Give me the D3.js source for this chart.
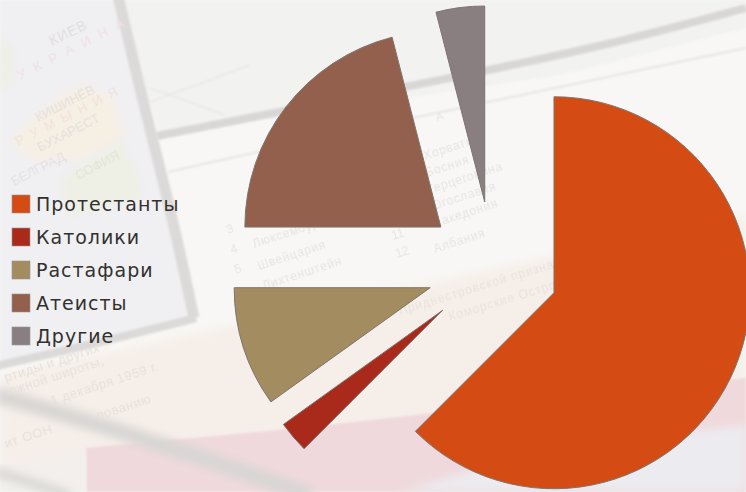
<!DOCTYPE html>
<html>
<head>
<meta charset="utf-8">
<script src="https://cdn.jsdelivr.net/npm/d3@7"></script>
<style>
html, body { margin: 0; padding: 0; background: #f7f6f4; }
svg { display: block; }
</style>
</head>
<body>
<svg id="chart" width="746" height="492"></svg>
<script>
var names = ['Протестанты', 'Католики', 'Растафари', 'Атеисты', 'Другие'];
var shares = [62.5, 2.6, 9.9, 21, 4];
var colors = ['#d54b14', '#a92a1a', '#a38d60', '#92604c', '#8a7f80'];

var width = 746, height = 492;
var pieCenter = [493, 267.5];
var radius = 196;
var explode = 66;

var svg = d3.select('#chart');
var defs = svg.append('defs');
function addBlur(id, dev) {
  defs.append('filter').attr('id', id)
    .attr('x', '-30%').attr('y', '-30%').attr('width', '160%').attr('height', '160%')
    .append('feGaussianBlur').attr('stdDeviation', dev);
}
addBlur('blur', 0.9);
addBlur('blurBig', 4);
addBlur('blurTxt', 0.75);

// washed out photo behind the chart
var back = svg.append('g');
function poly(g, pts, fill, filter) {
  var p = g.append('path').attr('d', d3.line()(pts) + 'Z').attr('fill', fill);
  if (filter) p.attr('filter', 'url(#' + filter + ')');
}
function band(g, pts, color, w, filter) {
  var p = g.append('path').attr('d', d3.line().curve(d3.curveBasis)(pts))
    .attr('fill', 'none').attr('stroke', color).attr('stroke-width', w);
  if (filter) p.attr('filter', 'url(#' + filter + ')');
}
function label(g, txt, x, y, size, rot, color, spacing) {
  g.append('text').text(txt)
    .attr('transform', 'translate(' + x + ',' + y + ') rotate(' + rot + ')')
    .attr('font-family', 'Liberation Sans, sans-serif').attr('font-size', size)
    .attr('letter-spacing', spacing || 0)
    .attr('fill', color).attr('filter', 'url(#blurTxt)');
}

back.append('rect').attr('width', width).attr('height', height).attr('fill', '#f8f7f5');
poly(back, [[120, 0], [746, 0], [746, 28], [560, 75], [160, 135]], '#f2f2f1', 'blur');
poly(back, [[0, 0], [118, 0], [192, 320], [0, 365]], '#f0eff2', 'blur');
poly(back, [[10, 140], [60, 95], [85, 85], [115, 100], [125, 140], [80, 160], [30, 160]], '#f6efe4', 'blurBig');
poly(back, [[60, 180], [120, 140], [140, 180], [140, 200], [70, 215]], '#eef0e5', 'blurBig');
poly(back, [[0, 40], [15, 50], [12, 85], [0, 90]], '#eef0e6', 'blurBig');
poly(back, [[0, 375], [746, 215], [746, 420], [0, 470]], '#f6efe9', 'blurBig');
poly(back, [[86, 448], [300, 428], [746, 378], [746, 492], [86, 492]], '#efd9dc', 'blur');
poly(back, [[400, 492], [560, 445], [746, 425], [746, 492]], '#ecebef', 'blurBig');
poly(back, [[0, 465], [86, 450], [86, 492], [0, 492]], '#f2efec', 'blur');

band(back, [[118, -4], [145, 110], [172, 215], [194, 318]], '#dcdad9', 11, 'blur');
band(back, [[157, 136], [300, 108], [500, 68], [620, 42], [746, 8]], '#d9d7d6', 8, 'blur');
band(back, [[-4, 366], [90, 345], [196, 318]], '#dcdad8', 8, 'blur');
band(back, [[168, 172], [400, 120], [746, 48]], '#e6e5e3', 2, 'blur');
band(back, [[150, 88], [225, 115]], '#e7e7e7', 1.5, 'blur');
band(back, [[150, 102], [250, 65]], '#e7e7e7', 1.5, 'blur');
band(back, [[-4, 395], [85, 420], [240, 470], [310, 496]], '#d8d6d4', 16, 'blurBig');
band(back, [[-4, 472], [40, 485], [70, 496]], '#d8d6d4', 9, 'blurBig');

label(back, 'КИЕВ', 52, 46, 14, -26, '#e0dde2', 1);
label(back, 'У К Р А И Н А', 20, 80, 13, -27, '#f0e0e3', 3);
label(back, 'КИШИНЁВ', 38, 122, 13, -27, '#e3dfdc');
label(back, 'Р У М Ы Н И Я', 18, 146, 13, -27, '#f0e1d9', 2);
label(back, 'БУХАРЕСТ', 40, 152, 13, -27, '#e3dfdc');
label(back, 'БЕЛГРАД', 14, 186, 13, -27, '#e2e0e4');
label(back, 'СОФИЯ', 78, 180, 13, -27, '#e3e3d8');
['Люксембург', 'Швейцария', 'Лихтенштейн'].forEach(function(t, i) {
  label(back, t, 254 + i * 5, [248, 270, 290][i], 12, -18, '#e6e5e3', 0.8);
});
['3', '4', '5'].forEach(function(t, i) {
  label(back, t, 228 + i * 4, 234 + i * 20, 12, -18, '#e6e5e3');
});
['Хорватия', 'Босния и', 'Герцеговина', 'Югославия', 'Македония', 'Албания'].forEach(function(t, i) {
  label(back, t, 425 + i * 2, 160 + i * 17 + (i == 5 ? 8 : 0), 12, -18, '#e6e5e3', 0.8);
});
['11', '12'].forEach(function(t, i) {
  label(back, t, 393 + i * 4, 240 + i * 18, 12, -18, '#e6e5e3');
});
['Приднестровской признала права', 'Коморские Острова'].forEach(function(t, i) {
  label(back, t, 400 + i * 50, 315 + i * 6, 12, -17, '#e8e2dc', 1);
});
['ртиды и других', 'южной широты,', '1 декабря 1959 г.', 'рованию'].forEach(function(t, i) {
  label(back, t, [6, 8, 52, 98][i], [382, 396, 405, 420][i], 13, -18, '#e6e0da', 0.6);
});
label(back, 'ит ООН', 6, 448, 13, -18, '#e6e0da', 0.6);
label(back, 'А', 437, 121, 11, -18, '#e6e5e3');

// the chart itself
var pie = d3.pie().sort(null).value(function(d) { return d; }).startAngle(0).endAngle(2 * Math.PI);
var arc = d3.arc().innerRadius(0).outerRadius(radius);

svg.append('g')
  .attr('transform', 'translate(' + pieCenter[0] + ',' + pieCenter[1] + ')')
  .selectAll('path')
  .data(pie(shares))
  .enter().append('path')
    .attr('d', arc)
    .attr('fill', function(d, i) { return colors[i]; })
    .attr('stroke', '#7d7570')
    .attr('stroke-width', 1)
    .attr('stroke-linejoin', 'miter')
    .attr('transform', function(d) {
      var mid = (d.startAngle + d.endAngle) / 2;
      return 'translate(' + (Math.sin(mid) * explode) + ',' + (-Math.cos(mid) * explode) + ')';
    });

var legendY = d3.scalePoint().domain(names).range([204, 336]);
var legend = svg.append('g').selectAll('g')
  .data(names)
  .enter().append('g')
    .attr('transform', function(d) { return 'translate(0,' + legendY(d) + ')'; });
legend.append('rect')
  .attr('x', 12).attr('y', -9).attr('width', 18).attr('height', 18)
  .attr('fill', function(d, i) { return colors[i]; })
  .attr('stroke', '#9a9490').attr('stroke-width', 0.6);
legend.append('text')
  .text(function(d) { return d; })
  .attr('x', 36).attr('y', 7)
  .attr('font-family', 'DejaVu Sans, sans-serif')
  .attr('font-size', 19)
  .attr('letter-spacing', 1)
  .attr('fill', '#33312f');
</script>
</body>
</html>
